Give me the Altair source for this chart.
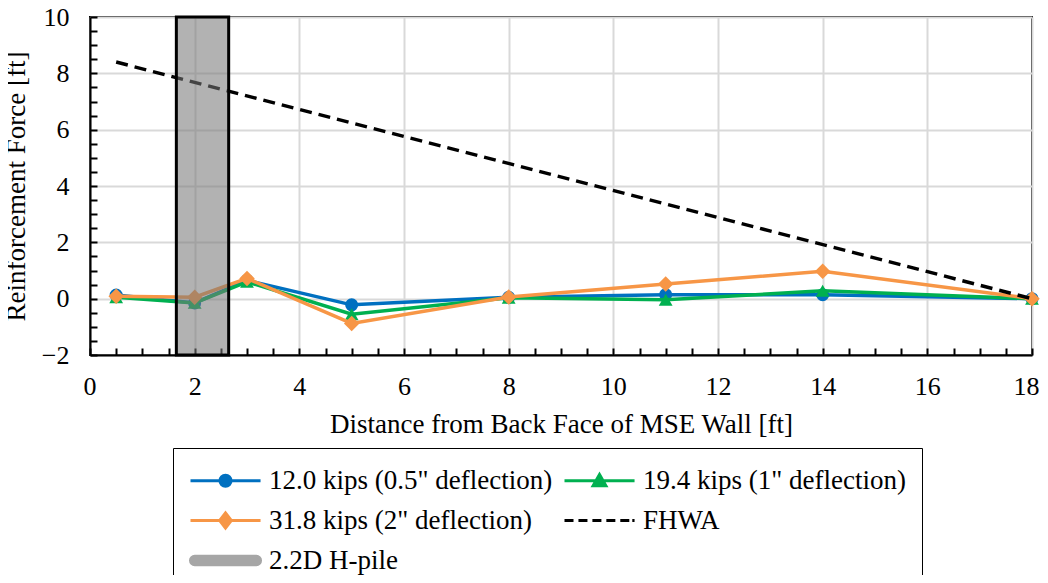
import altair as alt
import pandas as pd

FONT = "'Liberation Serif', 'Times New Roman', Times, serif"

# ---- data ----
x_pos = [0.5, 2, 3, 5, 8, 11, 14, 18]
force_12 = [0.13, -0.15, 0.65, -0.22, 0.05, 0.14, 0.14, 0.0]
force_19 = [0.05, -0.15, 0.60, -0.55, 0.03, -0.04, 0.28, 0.0]
force_31 = [0.09, 0.05, 0.72, -0.88, 0.06, 0.52, 0.97, 0.0]
series_names = ['12.0 kips (0.5" deflection)', '19.4 kips (1" deflection)', '31.8 kips (2" deflection)']
series_colors = ["#0070C0", "#00B050", "#F79646"]
series_shapes = ["circle", "triangle-up", "diamond"]
series_sizes = [170, 190, 240]

fhwa_x = [0.5, 18]
fhwa_y = [8.4, 0.0]

pile_x1 = [1.65]
pile_x2 = [2.65]
pile_y1 = [-2]
pile_y2 = [10]

x_major = [0, 2, 4, 6, 8, 10, 12, 14, 16, 18]
y_major = [-2, 0, 2, 4, 6, 8, 10]
x_minor = [v / 2 for v in range(0, 37)]
y_minor = [v / 2 for v in range(-4, 21)]

legend_labels = series_names + ["FHWA", "2.2D H-pile"]
legend_colors = series_colors + ["black", "#A6A6A6"]
legend_paths = [
    "M-1,0H3.67M1.703,0A0.37,0.37,0,1,1,0.963,0A0.37,0.37,0,1,1,1.703,0Z",
    "M-1,0H3.67M1.333,-0.42L1.76,0.34L0.906,0.34Z",
    "M-1,0H3.67M1.333,-0.5L1.72,0L1.333,0.5L0.946,0Z",
    "M-1,0H-0.4M-0.07,0H0.53M0.86,0H1.46M1.79,0H2.39M2.72,0H3.32M3.52,0H3.67",
    "M-0.72,-0.28H3.39A0.28,0.28,0,0,1,3.39,0.28H-0.72A0.28,0.28,0,0,1,-0.72,-0.28Z",
]

W, H = 942, 338

xs = alt.Scale(domain=[0, 18], nice=False, zero=False)
ys = alt.Scale(domain=[-2, 10], nice=False, zero=False)

main_x_axis = alt.Axis(
    values=x_major, grid=True, gridColor="#D9D9D9", gridWidth=2,
    ticks=False, domain=True, domainColor="black", domainWidth=2,
    labelFont=FONT, labelFontSize=26, labelColor="black", labelPadding=18,
    labelFlush=True, labelFlushOffset=7, labelOverlap=False,
    title="Distance from Back Face of MSE Wall [ft]", titleFont=FONT,
    titleFontSize=27, titleFontWeight="normal", titleColor="black", titlePadding=12,
)
main_y_axis = alt.Axis(
    values=y_major, grid=True, gridColor="#D9D9D9", gridWidth=2,
    ticks=False, domain=True, domainColor="black", domainWidth=2,
    labelFont=FONT, labelFontSize=26, labelColor="black", labelPadding=21,
    labelFlush=False, labelOverlap=False,
    title="Reinforcement Force [ft]", titleFont=FONT,
    titleFontSize=27, titleFontWeight="normal", titleColor="black", titlePadding=11,
)
tick_x_axis = alt.Axis(
    orient="top", offset=-H, values=x_minor, labels=False, domain=False, grid=False,
    ticks=True, tickSize=7, tickWidth=2, tickColor="black", title=None,
)
tick_y_axis = alt.Axis(
    orient="right", offset=-W, values=y_minor, labels=False, domain=False, grid=False,
    ticks=True, tickSize=7, tickWidth=2, tickColor="black", title=None,
)

layers = []
for i, (name, vals) in enumerate(zip(series_names, [force_12, force_19, force_31])):
    sdf = pd.DataFrame({"x": x_pos, "force": vals, "series": name})
    if i == 0:
        xa, ya = main_x_axis, main_y_axis
    else:
        xa, ya = None, None
    line = alt.Chart(sdf).mark_line(color=series_colors[i], strokeWidth=3.5).encode(
        x=alt.X("x:Q", scale=xs, axis=xa),
        y=alt.Y("force:Q", scale=ys, axis=ya),
    )
    pts = alt.Chart(sdf).mark_point(
        filled=True, opacity=1, color=series_colors[i], shape=series_shapes[i], size=series_sizes[i]
    ).encode(
        x=alt.X("x:Q", scale=xs, axis=None),
        y=alt.Y("force:Q", scale=ys, axis=None),
    )
    layers += [line, pts]

fhwa_df = pd.DataFrame({"x": fhwa_x, "force": fhwa_y})
fhwa = alt.Chart(fhwa_df).mark_line(color="black", strokeWidth=3.5, strokeDash=[12, 7]).encode(
    x=alt.X("x:Q", scale=xs, axis=None),
    y=alt.Y("force:Q", scale=ys, axis=None),
)
layers.append(fhwa)

pile_df = pd.DataFrame({"x1": pile_x1, "x2": pile_x2, "y1": pile_y1, "y2": pile_y2})
pile = alt.Chart(pile_df).mark_rect(
    fill="#777777", fillOpacity=0.57, stroke="black", strokeWidth=3, strokeOpacity=1
).encode(
    x=alt.X("x1:Q", scale=xs, axis=tick_x_axis), x2="x2:Q",
    y=alt.Y("y1:Q", scale=ys, axis=tick_y_axis), y2="y2:Q",
)
layers.append(pile)

leg = alt.Legend(
    title=None, orient="none", legendX=83, legendY=431, columns=2, direction="horizontal",
    columnPadding=5, rowPadding=10, padding=16, strokeColor="black", fillColor="white",
    symbolSize=900, symbolStrokeWidth=3, labelFont=FONT, labelFontSize=27,
    labelColor="black", labelOffset=47, labelLimit=0,
)
leg_df = pd.DataFrame({"label": legend_labels})
legend_layer = alt.Chart(leg_df).transform_filter("false").mark_point(filled=True, opacity=1).encode(
    x=alt.X("lx:Q", scale=xs, axis=None),
    y=alt.Y("ly:Q", scale=ys, axis=None),
    fill=alt.Fill("label:N", scale=alt.Scale(domain=legend_labels, range=legend_colors), legend=leg),
    stroke=alt.Stroke("label:N", scale=alt.Scale(domain=legend_labels, range=legend_colors), legend=leg),
    shape=alt.Shape("label:N", scale=alt.Scale(domain=legend_labels, range=legend_paths), legend=leg),
)
layers.append(legend_layer)

chart = alt.layer(*layers).resolve_axis(x="independent", y="independent").properties(
    width=W, height=H,
    autosize=alt.AutoSizeParams(type="none"),
    padding={"left": 82, "top": 9, "right": 8, "bottom": 220},
).configure(font=FONT).configure_view(stroke="black", strokeWidth=2)

chart.save("out.html", embed_options={"renderer": "svg", "actions": False})
